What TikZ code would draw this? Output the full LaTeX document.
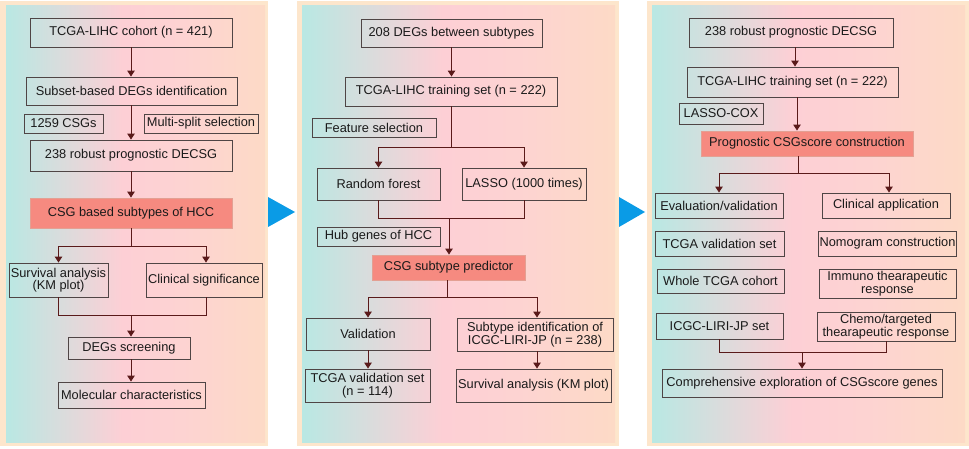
\documentclass[tikz,border=0pt]{standalone}
\usepackage{fontspec}
\setmainfont{Liberation Sans}
\usetikzlibrary{arrows.meta,calc}
\definecolor{peach}{HTML}{FDE6CC}
\definecolor{teal}{HTML}{B9E8E3}
\definecolor{pinkc}{HTML}{FDCFD5}
\definecolor{pinkd}{HTML}{FDD3D2}
\definecolor{rightc}{HTML}{FDDAC6}
\definecolor{boxc}{HTML}{4F4545}
\definecolor{arrc}{HTML}{5A1A1A}
\definecolor{salmon}{HTML}{F68A80}
\definecolor{salmonb}{HTML}{E3A093}
\definecolor{bluet}{HTML}{0A9BE6}
\definecolor{txt}{HTML}{1A1A1A}
\pgfdeclarehorizontalshading{panelgrad}{100bp}{color(0bp)=(teal); color(25bp)=(teal); color(47.5bp)=(pinkc); color(59bp)=(pinkd); color(75bp)=(rightc); color(100bp)=(rightc)}
\begin{document}
\begin{tikzpicture}[x=1pt,y=-1pt,
  bx/.style={draw=boxc, line width=0.9pt, inner sep=1pt, align=center,
    font=\fontsize{12.8}{12.5}\selectfont, text=txt},
  hl/.style={bx, fill=salmon, draw=salmonb},
  wh/.style 2 args={minimum width=#1pt, minimum height=#2pt},
  ln/.style={draw=arrc, line width=1pt},
  arr/.style={ln, -{Triangle[length=6pt,width=7.5pt]}},
  panel/.style={fill=peach},
  grad/.style={shading=panelgrad},
  tri/.style={fill=bluet}]
\useasboundingbox (0,0) rectangle (969,449);
\fill[white] (0,0) rectangle (969,449);
% panels
\fill[panel] (0,1) rectangle (268,446);
\shade[grad] (6,6) rectangle (265,442);
\fill[panel] (297,1) rectangle (619,446);
\shade[grad] (302,6) rectangle (615,442);
\fill[panel] (647,1) rectangle (969,446);
\shade[grad] (652,6) rectangle (965,442);
% blue triangles
\fill[tri] (268,197) -- (295,212) -- (268,227) -- cycle;
\fill[tri] (619,197) -- (645,212) -- (619,227) -- cycle;

% ---------------- panel 1
\node[bx, wh={202}{29}] (a1) at (131,32.5) {TCGA-LIHC cohort (n = 421)};
\node[bx, wh={211}{28}] (a2) at (131.5,91) {Subset-based DEGs identification};
\node[bx, wh={79}{19}] (a3) at (63.5,123.5) {1259 CSGs};
\node[bx, wh={114}{19}] (a4) at (201,123.5) {Multi-split selection};
\node[bx, wh={202}{31}] (a5) at (131,155.5) {238 robust prognostic DECSG};
\node[hl, wh={202}{30}] (a6) at (131,213) {CSG based subtypes of HCC};
\node[bx, wh={99}{34}] (a7) at (58.5,280) {Survival analysis\\(KM plot)};
\node[bx, wh={116}{34}] (a8) at (204,280) {Clinical significance};
\node[bx, wh={122}{22}] (a9) at (129,348) {DEGs screening};
\node[bx, wh={147}{26}] (a10) at (131.5,395) {Molecular characteristics};
\coordinate (s1) at (131,246);
\coordinate (m1) at (131,315);
\draw[arr] (a1.south) -- (a1.south |- a2.north);
\draw[arr] (a1.south |- a2.south) -- (a1.south |- a5.north);
\draw[arr] (a5.south) -- (a6.north);
\draw[ln] (a6.south) -- (s1);
\draw[arr] (s1) -| (a7.north);
\draw[arr] (s1) -| ($(a8.north)+(2,0)$);
\draw[ln] (a7.south) |- (m1);
\draw[ln] ($(a8.south)+(2,0)$) |- (m1);
\draw[arr] (m1) -- (m1 |- a9.north);
\draw[arr] (m1 |- a9.south) -- (m1 |- a10.north);

% ---------------- panel 2
\node[bx, wh={181}{28}] (b1) at (451.5,33) {208 DEGs between subtypes};
\node[bx, wh={212}{29}] (b2) at (451,91.5) {TCGA-LIHC training set (n = 222)};
\node[bx, wh={124}{19}] (b3) at (374,127.5) {Feature selection};
\node[bx, wh={123}{32}] (b4) at (378.5,184) {Random forest};
\node[bx, wh={124}{32}] (b5) at (524,184) {LASSO (1000 times)};
\node[bx, wh={123}{19}] (b6) at (378.5,236.5) {Hub genes of HCC};
\node[hl, wh={153}{25}] (b7) at (448.5,267.5) {CSG subtype predictor};
\node[bx, wh={124}{32}] (b8) at (368,334) {Validation};
\node[bx, wh={156}{33}] (b9) at (535,334.5) {Subtype identification of\\ICGC-LIRI-JP (n = 238)};
\node[bx, wh={125}{33}] (b10) at (367.5,385.5) {TCGA validation set\\(n = 114)};
\node[bx, wh={155}{33}] (b11) at (533.5,385.5) {Survival analysis (KM plot)};
\coordinate (s2) at (451,148);
\coordinate (m2) at (449,219);
\coordinate (s3) at (447,297);
\draw[arr] (b1.south) -- (b1.south |- b2.north);
\draw[ln] (b2.south) -- (s2);
\draw[arr] (s2) -| (b4.north);
\draw[arr] (s2) -| (b5.north);
\draw[ln] (b4.south) |- (m2);
\draw[ln] (b5.south) |- (m2);
\draw[arr] (m2) -- (m2 |- b7.north);
\draw[ln] (b7.south -| s3) -- (s3);
\draw[arr] (s3) -| (b8.north);
\draw[arr] (s3) -| ($(b9.north)+(2,0)$);
\draw[arr] (b8.south) -- (b8.south |- b10.north);
\draw[arr] ($(b9.south)+(2,0)$) -- ($(b9.south |- b11.north)+(2,0)$);

% ---------------- panel 3
\node[bx, wh={204}{29}] (c1) at (791,32.5) {238 robust prognostic DECSG};
\node[bx, wh={211}{30}] (c2) at (792.5,82) {TCGA-LIHC training set (n = 222)};
\node[bx, wh={84}{21}] (c3) at (721,113.5) {LASSO-COX};
\node[hl, wh={212}{25}] (c4) at (807,143.5) {Prognostic CSGscore construction};
\node[bx, wh={128}{25}] (c5) at (719,205.5) {Evaluation/validation};
\node[bx, wh={128}{25}] (c6) at (886,205.5) {Clinical application};
\node[bx, wh={129}{25}] (c7) at (719.5,243.5) {TCGA validation set};
\node[bx, wh={137}{25}] (c8) at (887.5,243.5) {Nomogram construction};
\node[bx, wh={127}{24}] (c9) at (720.5,281) {Whole TCGA cohort};
\node[bx, wh={137}{29}] (c10) at (887.5,283.5) {Immuno thearapeutic\\response};
\node[bx, wh={127}{26}] (c11) at (719.5,326) {ICGC-LIRI-JP set};
\node[bx, wh={138}{29}] (c12) at (886,326.5) {Chemo/targeted\\thearapeutic response};
\node[bx, wh={280}{28}] (c13) at (802,383) {Comprehensive exploration of CSGscore genes};
\coordinate (t2) at (795,0);
\coordinate (t4) at (797,0);
\coordinate (s4) at (798,174);
\coordinate (m4) at (802,352);
\draw[arr] (c1.south -| t2) -- (c2.north -| t2);
\draw[arr] (c2.south -| t4) -- (c4.north -| t4);
\draw[ln] (c4.south -| s4) -- (s4);
\draw[arr] (s4) -| (c5.north);
\draw[arr] (s4) -| ($(c6.north)+(3,0)$);
\draw[ln] (c11.south) |- (m4);
\draw[ln] (c12.south) |- (m4);
\draw[arr] (m4) -- (m4 |- c13.north);
\end{tikzpicture}
\end{document}
